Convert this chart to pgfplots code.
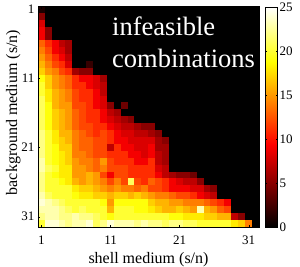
\documentclass[border=0pt]{standalone}
\usepackage{pgfplots}
\pgfplotsset{compat=1.18}
\usepackage{fontspec}
\setmainfont{Liberation Serif}
\pgfkeys{/pgf/number format/assume math mode=true}
\begin{document}
\begin{tikzpicture}
\useasboundingbox (-38pt,-40pt) rectangle (262pt,227pt);
\begin{axis}[
  at={(0pt,0pt)}, anchor=south west,
  scale only axis, width=221pt, height=221pt,
  xmin=0.5, xmax=32.5, ymin=0.5, ymax=32.5,
  y dir=reverse,
  axis on top,
  xtick={1,11,21,31}, ytick={1,11,21,31},
  tick align=inside, major tick length=2.5pt,
  tick style={black},
  ticklabel style={font=\fontsize{13}{13}\selectfont},
  xticklabel style={yshift=-5pt},
  xlabel={shell medium (s/n)},
  ylabel={background medium (s/n)},
  xlabel style={font=\fontsize{16}{16}\selectfont, at={(axis description cs:0.5,-0.1674)}, anchor=base},
  ylabel style={font=\fontsize{16}{16}\selectfont, at={(axis description cs:-0.095,0.518)}, anchor=base},
  colormap={mhot}{rgb255(0cm)=(0,0,0); rgb255(3cm)=(255,0,0); rgb255(6cm)=(255,255,0); rgb255(8cm)=(255,255,255)},
  point meta min=0, point meta max=25,
  colorbar,
  colorbar style={
    at={(parent axis.north east)}, anchor=north west, xshift=-2.5pt, yshift=-1pt,
    scale only axis, width=12.5pt, height=220pt,
    ytick={0,5,10,15,20,25},
    tick align=inside, major tick length=2pt,
    yticklabel style={font=\fontsize{13}{13}\selectfont, xshift=-1.5pt},
  },
]
\addplot[matrix plot*, mesh/cols=32, mesh/rows=32, point meta=explicit] table[row sep=\\, meta index=2] {
1 1 1\\2 1 0\\3 1 0\\4 1 0\\5 1 0\\6 1 0\\7 1 0\\8 1 0\\9 1 0\\10 1 0\\11 1 0\\12 1 0\\13 1 0\\14 1 0\\15 1 0\\16 1 0\\17 1 0\\18 1 0\\19 1 0\\20 1 0\\21 1 0\\22 1 0\\23 1 0\\24 1 0\\25 1 0\\26 1 0\\27 1 0\\28 1 0\\29 1 0\\30 1 0\\31 1 0\\32 1 0\\
1 2 5\\2 2 0\\3 2 0\\4 2 0\\5 2 0\\6 2 0\\7 2 0\\8 2 0\\9 2 0\\10 2 0\\11 2 0\\12 2 0\\13 2 0\\14 2 0\\15 2 0\\16 2 0\\17 2 0\\18 2 0\\19 2 0\\20 2 0\\21 2 0\\22 2 0\\23 2 0\\24 2 0\\25 2 0\\26 2 0\\27 2 0\\28 2 0\\29 2 0\\30 2 0\\31 2 0\\32 2 0\\
1 3 8\\2 3 0\\3 3 0\\4 3 0\\5 3 0\\6 3 0\\7 3 0\\8 3 0\\9 3 0\\10 3 0\\11 3 0\\12 3 0\\13 3 0\\14 3 0\\15 3 0\\16 3 0\\17 3 0\\18 3 0\\19 3 0\\20 3 0\\21 3 0\\22 3 0\\23 3 0\\24 3 0\\25 3 0\\26 3 0\\27 3 0\\28 3 0\\29 3 0\\30 3 0\\31 3 0\\32 3 0\\
1 4 9\\2 4 5\\3 4 0\\4 4 0\\5 4 0\\6 4 0\\7 4 0\\8 4 0\\9 4 0\\10 4 0\\11 4 0\\12 4 0\\13 4 0\\14 4 0\\15 4 0\\16 4 0\\17 4 0\\18 4 0\\19 4 0\\20 4 0\\21 4 0\\22 4 0\\23 4 0\\24 4 0\\25 4 0\\26 4 0\\27 4 0\\28 4 0\\29 4 0\\30 4 0\\31 4 0\\32 4 0\\
1 5 9\\2 5 5\\3 5 0\\4 5 0\\5 5 0\\6 5 0\\7 5 0\\8 5 0\\9 5 0\\10 5 0\\11 5 0\\12 5 0\\13 5 0\\14 5 0\\15 5 0\\16 5 0\\17 5 0\\18 5 0\\19 5 0\\20 5 0\\21 5 0\\22 5 0\\23 5 0\\24 5 0\\25 5 0\\26 5 0\\27 5 0\\28 5 0\\29 5 0\\30 5 0\\31 5 0\\32 5 0\\
1 6 13\\2 6 11\\3 6 9\\4 6 7\\5 6 6\\6 6 0\\7 6 0\\8 6 0\\9 6 0\\10 6 0\\11 6 0\\12 6 0\\13 6 0\\14 6 0\\15 6 0\\16 6 0\\17 6 0\\18 6 0\\19 6 0\\20 6 0\\21 6 0\\22 6 0\\23 6 0\\24 6 0\\25 6 0\\26 6 0\\27 6 0\\28 6 0\\29 6 0\\30 6 0\\31 6 0\\32 6 0\\
1 7 14\\2 7 12\\3 7 9\\4 7 8\\5 7 6\\6 7 0\\7 7 0\\8 7 0\\9 7 0\\10 7 0\\11 7 0\\12 7 0\\13 7 0\\14 7 0\\15 7 0\\16 7 0\\17 7 0\\18 7 0\\19 7 0\\20 7 0\\21 7 0\\22 7 0\\23 7 0\\24 7 0\\25 7 0\\26 7 0\\27 7 0\\28 7 0\\29 7 0\\30 7 0\\31 7 0\\32 7 0\\
1 8 15\\2 8 13\\3 8 11\\4 8 9\\5 8 7\\6 8 0\\7 8 0\\8 8 0\\9 8 0\\10 8 0\\11 8 0\\12 8 0\\13 8 0\\14 8 0\\15 8 0\\16 8 0\\17 8 0\\18 8 0\\19 8 0\\20 8 0\\21 8 0\\22 8 0\\23 8 0\\24 8 0\\25 8 0\\26 8 0\\27 8 0\\28 8 0\\29 8 0\\30 8 0\\31 8 0\\32 8 0\\
1 9 16\\2 9 14\\3 9 12\\4 9 11\\5 9 8\\6 9 0\\7 9 0\\8 9 2\\9 9 0\\10 9 0\\11 9 0\\12 9 0\\13 9 0\\14 9 0\\15 9 0\\16 9 0\\17 9 0\\18 9 0\\19 9 0\\20 9 0\\21 9 0\\22 9 0\\23 9 0\\24 9 0\\25 9 0\\26 9 0\\27 9 0\\28 9 0\\29 9 0\\30 9 0\\31 9 0\\32 9 0\\
1 10 17\\2 10 15\\3 10 14\\4 10 12\\5 10 11\\6 10 6\\7 10 5\\8 10 5\\9 10 0\\10 10 0\\11 10 0\\12 10 0\\13 10 0\\14 10 0\\15 10 0\\16 10 0\\17 10 0\\18 10 0\\19 10 0\\20 10 0\\21 10 0\\22 10 0\\23 10 0\\24 10 0\\25 10 0\\26 10 0\\27 10 0\\28 10 0\\29 10 0\\30 10 0\\31 10 0\\32 10 0\\
1 11 19\\2 11 17\\3 11 15\\4 11 14\\5 11 13\\6 11 11\\7 11 9\\8 11 9\\9 11 8\\10 11 6\\11 11 0\\12 11 0\\13 11 0\\14 11 0\\15 11 0\\16 11 0\\17 11 0\\18 11 0\\19 11 0\\20 11 0\\21 11 0\\22 11 0\\23 11 0\\24 11 0\\25 11 0\\26 11 0\\27 11 0\\28 11 0\\29 11 0\\30 11 0\\31 11 0\\32 11 0\\
1 12 20\\2 12 17\\3 12 15\\4 12 14\\5 12 13\\6 12 11\\7 12 11\\8 12 9\\9 12 8\\10 12 7\\11 12 0\\12 12 0\\13 12 0\\14 12 0\\15 12 0\\16 12 0\\17 12 0\\18 12 0\\19 12 0\\20 12 0\\21 12 0\\22 12 0\\23 12 0\\24 12 0\\25 12 0\\26 12 0\\27 12 0\\28 12 0\\29 12 0\\30 12 0\\31 12 0\\32 12 0\\
1 13 20\\2 13 18\\3 13 16\\4 13 15\\5 13 14\\6 13 12\\7 13 11\\8 13 11\\9 13 9\\10 13 7\\11 13 0\\12 13 0\\13 13 0\\14 13 0\\15 13 0\\16 13 0\\17 13 0\\18 13 0\\19 13 0\\20 13 0\\21 13 0\\22 13 0\\23 13 0\\24 13 0\\25 13 0\\26 13 0\\27 13 0\\28 13 0\\29 13 0\\30 13 0\\31 13 0\\32 13 0\\
1 14 21\\2 14 18\\3 14 16\\4 14 15\\5 14 14\\6 14 12\\7 14 11\\8 14 11\\9 14 9\\10 14 8\\11 14 0\\12 14 0\\13 14 0\\14 14 0\\15 14 0\\16 14 0\\17 14 0\\18 14 0\\19 14 0\\20 14 0\\21 14 0\\22 14 0\\23 14 0\\24 14 0\\25 14 0\\26 14 0\\27 14 0\\28 14 0\\29 14 0\\30 14 0\\31 14 0\\32 14 0\\
1 15 21\\2 15 19\\3 15 16\\4 15 15\\5 15 15\\6 15 12\\7 15 12\\8 15 11\\9 15 9\\10 15 8\\11 15 5\\12 15 0\\13 15 4\\14 15 0\\15 15 0\\16 15 0\\17 15 0\\18 15 0\\19 15 0\\20 15 0\\21 15 0\\22 15 0\\23 15 0\\24 15 0\\25 15 0\\26 15 0\\27 15 0\\28 15 0\\29 15 0\\30 15 0\\31 15 0\\32 15 0\\
1 16 21\\2 16 19\\3 16 17\\4 16 16\\5 16 15\\6 16 13\\7 16 12\\8 16 11\\9 16 11\\10 16 9\\11 16 7\\12 16 6\\13 16 0\\14 16 0\\15 16 0\\16 16 0\\17 16 0\\18 16 0\\19 16 0\\20 16 0\\21 16 0\\22 16 0\\23 16 0\\24 16 0\\25 16 0\\26 16 0\\27 16 0\\28 16 0\\29 16 0\\30 16 0\\31 16 0\\32 16 0\\
1 17 21\\2 17 19\\3 17 17\\4 17 16\\5 17 15\\6 17 13\\7 17 12\\8 17 11\\9 17 11\\10 17 9\\11 17 8\\12 17 7\\13 17 6\\14 17 5\\15 17 0\\16 17 0\\17 17 0\\18 17 0\\19 17 0\\20 17 0\\21 17 0\\22 17 0\\23 17 0\\24 17 0\\25 17 0\\26 17 0\\27 17 0\\28 17 0\\29 17 0\\30 17 0\\31 17 0\\32 17 0\\
1 18 21\\2 18 19\\3 18 17\\4 18 16\\5 18 15\\6 18 13\\7 18 12\\8 18 12\\9 18 11\\10 18 11\\11 18 9\\12 18 8\\13 18 7\\14 18 7\\15 18 6\\16 18 5\\17 18 5\\18 18 0\\19 18 0\\20 18 0\\21 18 0\\22 18 0\\23 18 0\\24 18 0\\25 18 0\\26 18 0\\27 18 0\\28 18 0\\29 18 0\\30 18 0\\31 18 0\\32 18 0\\
1 19 22\\2 19 20\\3 19 18\\4 19 16\\5 19 16\\6 19 14\\7 19 13\\8 19 12\\9 19 11\\10 19 12\\11 19 11\\12 19 9\\13 19 8\\14 19 8\\15 19 7\\16 19 7\\17 19 6\\18 19 5\\19 19 0\\20 19 0\\21 19 0\\22 19 0\\23 19 0\\24 19 0\\25 19 0\\26 19 0\\27 19 0\\28 19 0\\29 19 0\\30 19 0\\31 19 0\\32 19 0\\
1 20 22\\2 20 20\\3 20 18\\4 20 17\\5 20 16\\6 20 14\\7 20 13\\8 20 13\\9 20 12\\10 20 12\\11 20 11\\12 20 9\\13 20 9\\14 20 8\\15 20 8\\16 20 8\\17 20 8\\18 20 6\\19 20 5\\20 20 0\\21 20 0\\22 20 0\\23 20 0\\24 20 0\\25 20 0\\26 20 0\\27 20 0\\28 20 0\\29 20 0\\30 20 0\\31 20 0\\32 20 0\\
1 21 22\\2 21 20\\3 21 19\\4 21 17\\5 21 17\\6 21 14\\7 21 13\\8 21 13\\9 21 12\\10 21 12\\11 21 7\\12 21 11\\13 21 9\\14 21 9\\15 21 8\\16 21 8\\17 21 9\\18 21 6\\19 21 6\\20 21 0\\21 21 0\\22 21 0\\23 21 0\\24 21 0\\25 21 0\\26 21 0\\27 21 0\\28 21 0\\29 21 0\\30 21 0\\31 21 0\\32 21 0\\
1 22 22\\2 22 20\\3 22 19\\4 22 18\\5 22 17\\6 22 14\\7 22 14\\8 22 13\\9 22 12\\10 22 12\\11 22 11\\12 22 11\\13 22 11\\14 22 9\\15 22 9\\16 22 8\\17 22 9\\18 22 7\\19 22 6\\20 22 0\\21 22 0\\22 22 0\\23 22 0\\24 22 0\\25 22 0\\26 22 0\\27 22 0\\28 22 0\\29 22 0\\30 22 0\\31 22 0\\32 22 0\\
1 23 23\\2 23 20\\3 23 19\\4 23 18\\5 23 17\\6 23 15\\7 23 14\\8 23 14\\9 23 13\\10 23 15\\11 23 12\\12 23 11\\13 23 11\\14 23 11\\15 23 9\\16 23 9\\17 23 11\\18 23 7\\19 23 6\\20 23 0\\21 23 0\\22 23 0\\23 23 0\\24 23 0\\25 23 0\\26 23 0\\27 23 0\\28 23 0\\29 23 0\\30 23 0\\31 23 0\\32 23 0\\
1 24 23\\2 24 21\\3 24 20\\4 24 18\\5 24 18\\6 24 15\\7 24 15\\8 24 14\\9 24 13\\10 24 14\\11 24 12\\12 24 12\\13 24 12\\14 24 11\\15 24 11\\16 24 11\\17 24 11\\18 24 8\\19 24 7\\20 24 0\\21 24 0\\22 24 0\\23 24 0\\24 24 0\\25 24 0\\26 24 0\\27 24 0\\28 24 0\\29 24 0\\30 24 0\\31 24 0\\32 24 0\\
1 25 22\\2 25 20\\3 25 19\\4 25 18\\5 25 18\\6 25 15\\7 25 15\\8 25 16\\9 25 15\\10 25 12\\11 25 9\\12 25 12\\13 25 12\\14 25 11\\15 25 11\\16 25 11\\17 25 11\\18 25 9\\19 25 7\\20 25 6\\21 25 5\\22 25 5\\23 25 4\\24 25 0\\25 25 0\\26 25 0\\27 25 0\\28 25 0\\29 25 0\\30 25 0\\31 25 0\\32 25 0\\
1 26 22\\2 26 20\\3 26 20\\4 26 19\\5 26 18\\6 26 16\\7 26 15\\8 26 16\\9 26 15\\10 26 14\\11 26 12\\12 26 14\\13 26 12\\14 26 21\\15 26 12\\16 26 11\\17 26 13\\18 26 12\\19 26 11\\20 26 9\\21 26 8\\22 26 7\\23 26 7\\24 26 5\\25 26 0\\26 26 0\\27 26 0\\28 26 0\\29 26 0\\30 26 0\\31 26 0\\32 26 0\\
1 27 22\\2 27 20\\3 27 20\\4 27 20\\5 27 20\\6 27 18\\7 27 17\\8 27 17\\9 27 16\\10 27 15\\11 27 14\\12 27 15\\13 27 14\\14 27 14\\15 27 13\\16 27 14\\17 27 12\\18 27 12\\19 27 11\\20 27 9\\21 27 9\\22 27 9\\23 27 8\\24 27 8\\25 27 6\\26 27 5\\27 27 0\\28 27 0\\29 27 0\\30 27 0\\31 27 0\\32 27 0\\
1 28 23\\2 28 21\\3 28 20\\4 28 20\\5 28 20\\6 28 19\\7 28 18\\8 28 18\\9 28 17\\10 28 17\\11 28 16\\12 28 17\\13 28 17\\14 28 16\\15 28 17\\16 28 16\\17 28 15\\18 28 14\\19 28 14\\20 28 13\\21 28 12\\22 28 12\\23 28 11\\24 28 9\\25 28 8\\26 28 7\\27 28 0\\28 28 0\\29 28 0\\30 28 0\\31 28 0\\32 28 0\\
1 29 24\\2 29 23\\3 29 22\\4 29 21\\5 29 20\\6 29 20\\7 29 20\\8 29 20\\9 29 20\\10 29 19\\11 29 15\\12 29 19\\13 29 19\\14 29 19\\15 29 19\\16 29 19\\17 29 17\\18 29 16\\19 29 16\\20 29 15\\21 29 15\\22 29 14\\23 29 14\\24 29 14\\25 29 13\\26 29 12\\27 29 11\\28 29 9\\29 29 0\\30 29 0\\31 29 0\\32 29 0\\
1 30 23\\2 30 23\\3 30 23\\4 30 22\\5 30 21\\6 30 20\\7 30 21\\8 30 20\\9 30 20\\10 30 20\\11 30 16\\12 30 20\\13 30 20\\14 30 20\\15 30 19\\16 30 19\\17 30 18\\18 30 17\\19 30 16\\20 30 16\\21 30 17\\22 30 16\\23 30 15\\24 30 23\\25 30 16\\26 30 15\\27 30 13\\28 30 12\\29 30 0\\30 30 0\\31 30 0\\32 30 0\\
1 31 22\\2 31 23\\3 31 23\\4 31 22\\5 31 22\\6 31 23\\7 31 22\\8 31 22\\9 31 21\\10 31 20\\11 31 19\\12 31 20\\13 31 20\\14 31 20\\15 31 20\\16 31 20\\17 31 20\\18 31 20\\19 31 20\\20 31 19\\21 31 19\\22 31 18\\23 31 18\\24 31 18\\25 31 17\\26 31 17\\27 31 16\\28 31 16\\29 31 7\\30 31 5\\31 31 0\\32 31 0\\
1 32 20\\2 32 24\\3 32 24\\4 32 23\\5 32 22\\6 32 23\\7 32 23\\8 32 24\\9 32 21\\10 32 22\\11 32 24\\12 32 23\\13 32 23\\14 32 23\\15 32 22\\16 32 23\\17 32 22\\18 32 22\\19 32 21\\20 32 22\\21 32 22\\22 32 21\\23 32 21\\24 32 20\\25 32 20\\26 32 20\\27 32 20\\28 32 20\\29 32 18\\30 32 17\\31 32 14\\32 32 0\\
};
\node[anchor=base west, text=white, inner sep=0pt, font=\fontsize{26.5}{26.5}\selectfont] at (axis cs:11.22,4.7) {infeasible};
\node[anchor=base west, text=white, inner sep=0pt, font=\fontsize{26.5}{26.5}\selectfont] at (axis cs:11.22,9.34) {combinations};
\end{axis}
\end{tikzpicture}
\end{document}
